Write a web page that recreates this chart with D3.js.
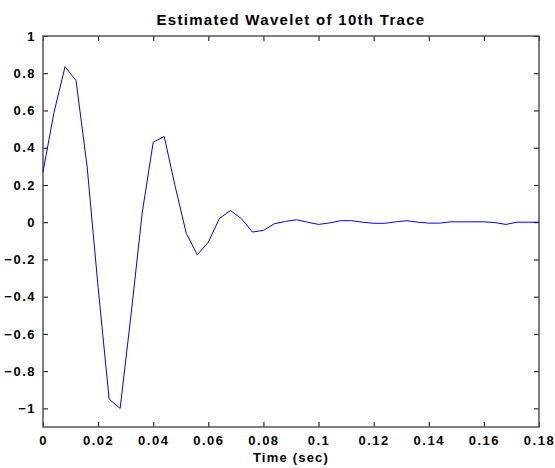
<!DOCTYPE html>
<html lang="en">
<head>
  <meta charset="UTF-8">
  <title>Estimated Wavelet of 10th Trace</title>
  <script src="https://cdn.jsdelivr.net/npm/d3@7"></script>
  <style>
    body {
      margin: 0;
      background: #fff;
    }

    #chart text {
      font-family: "Liberation Sans", Arial, sans-serif;
      font-weight: bold;
      fill: #000;
    }
  </style>
</head>
<body>
<svg id="chart"></svg>
<script>
  // sample interval 0.004 s
  let dt = 0.004;
  let amplitude = [
    0.27, 0.59, 0.835, 0.76, 0.30, -0.35, -0.95, -1.0,
    -0.49, 0.05, 0.43, 0.46, 0.19, -0.06, -0.175, -0.107,
    0.019, 0.063, 0.019, -0.053, -0.044, -0.008, 0.004, 0.013,
    0.0, -0.012, -0.004, 0.008, 0.008, 0.0, -0.006, -0.006,
    0.002, 0.008, 0.0, -0.005, -0.005, 0.002, 0.002, 0.002,
    0.002, -0.002, -0.012, 0.0, 0.0, 0.0
  ];
  let xTicks = [0, 0.02, 0.04, 0.06, 0.08, 0.1, 0.12, 0.14, 0.16, 0.18];
  let yTicks = [-1, -0.8, -0.6, -0.4, -0.2, 0, 0.2, 0.4, 0.6, 0.8, 1];

  let width = 555, height = 468;
  let margin = {top: 36, right: 16, bottom: 41, left: 43};

  let svg = d3.select("#chart")
      .attr("width", width)
      .attr("height", height);

  let x = d3.scaleLinear().domain([0, 0.18]).range([margin.left, width - margin.right]);
  let y = d3.scaleLinear().domain([-1.1, 1]).range([height - margin.bottom, margin.top]);

  let fmt = d => d === 0 ? "0" : d3.format("~g")(d);

  // ticks point inward, like the original
  svg.append("g")
      .attr("transform", `translate(0,${height - margin.bottom})`)
      .call(d3.axisBottom(x).tickValues(xTicks).tickFormat(fmt).tickSizeInner(-5).tickSizeOuter(0).tickPadding(9))
      .call(g => g.select(".domain").remove());

  svg.append("g")
      .attr("transform", `translate(0,${margin.top})`)
      .call(d3.axisTop(x).tickValues(xTicks).tickFormat("").tickSizeInner(-5).tickSizeOuter(0))
      .call(g => g.select(".domain").remove());

  svg.append("g")
      .attr("transform", `translate(${margin.left},0)`)
      .call(d3.axisLeft(y).tickValues(yTicks).tickFormat(fmt).tickSizeInner(-5).tickSizeOuter(0).tickPadding(7))
      .call(g => g.select(".domain").remove());

  svg.append("g")
      .attr("transform", `translate(${width - margin.right},0)`)
      .call(d3.axisRight(y).tickValues(yTicks).tickFormat("").tickSizeInner(-5).tickSizeOuter(0))
      .call(g => g.select(".domain").remove());

  svg.selectAll(".tick line").attr("stroke", "#000");
  svg.selectAll(".tick text")
      .attr("font-size", 13)
      .attr("letter-spacing", 1.5);

  // box
  svg.append("rect")
      .attr("x", margin.left)
      .attr("y", margin.top)
      .attr("width", width - margin.left - margin.right)
      .attr("height", height - margin.top - margin.bottom)
      .attr("fill", "none")
      .attr("stroke", "#555")
      .attr("stroke-width", 1.5);

  let line = d3.line()
      .x((d, i) => x(i * dt))
      .y(d => y(d));

  svg.append("path")
      .datum(amplitude)
      .attr("d", line)
      .attr("fill", "none")
      .attr("stroke", "#0000ff")
      .attr("stroke-width", 1);

  svg.append("text")
      .attr("x", (margin.left + width - margin.right) / 2)
      .attr("y", 25)
      .attr("text-anchor", "middle")
      .attr("font-size", 15)
      .attr("letter-spacing", 1.3)
      .text("Estimated Wavelet of 10th Trace");

  svg.append("text")
      .attr("x", (margin.left + width - margin.right) / 2)
      .attr("y", 462)
      .attr("text-anchor", "middle")
      .attr("font-size", 13)
      .attr("letter-spacing", 1.2)
      .text("Time (sec)");
</script>
</body>
</html>
